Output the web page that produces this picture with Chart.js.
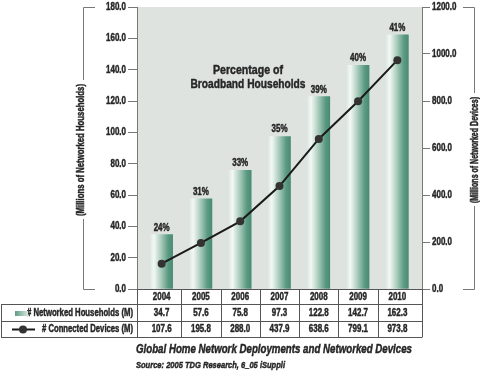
<!DOCTYPE html>
<html>
<head>
<meta charset="utf-8">
<script src="https://cdn.jsdelivr.net/npm/chart.js@4.4.1/dist/chart.umd.min.js"></script>
<style>
  html, body { margin: 0; padding: 0; background: #ffffff; }
  #wrap { width: 480px; height: 377px; position: relative; }
</style>
</head>
<body>
<div id="wrap"><canvas id="c" width="480" height="377"></canvas></div>
<script>
// ---- data ----
const years = ['2004', '2005', '2006', '2007', '2008', '2009', '2010'];
const households = [34.7, 57.6, 75.8, 97.3, 122.8, 142.7, 162.3];
const devices = [107.6, 195.8, 288.0, 437.9, 638.6, 799.1, 973.8];
const broadbandPct = ['24%', '31%', '33%', '35%', '39%', '40%', '41%'];
const leftTicksMax = 180;
const rightTicksMax = 1200;
const householdsLabel = '# Networked Households (M)';
const devicesLabel = '# Connected Devices (M)';
const leftAxisTitle = '(Millions of Networked Households)';
const rightAxisTitle = '(Millions of Networked Devices)';
const innerTitle = ['Percentage of', 'Broadband Households'];
const mainTitle = 'Global Home Network Deployments and Networked Devices';
const sourceText = 'Source: 2005 TDG Research, 6_05 iSuppli';

const FONT = "'Liberation Sans', Arial, sans-serif";
const TXT = '#262626';
const LINE = '#777777';
const SX = 0.76; // horizontal squeeze to mimic a condensed face

function txt(ctx, s, x, y, font, align, sx) {
  ctx.save();
  ctx.font = font;
  ctx.textAlign = align;
  ctx.textBaseline = 'middle';
  ctx.translate(x, y);
  ctx.scale(sx, 1);
  ctx.fillStyle = TXT;
  ctx.strokeStyle = TXT;
  ctx.lineWidth = 0.45;
  ctx.fillText(s, 0, 0);
  ctx.strokeText(s, 0, 0);
  ctx.restore();
}
function txtFit(ctx, s, x, y, font, align, w) {
  ctx.save();
  ctx.font = font;
  const m = ctx.measureText(s).width;
  ctx.restore();
  txt(ctx, s, x, y, font, align, w / m);
}

function barGradient(ctx) {
  const chart = ctx.chart;
  if (!chart.chartArea || !chart.scales.x) return '#8fbba7';
  const cx = chart.scales.x.getPixelForValue(ctx.dataIndex);
  const w = 11;
  const g = chart.ctx.createLinearGradient(cx - w, 0, cx + w, 0);
  g.addColorStop(0, '#dfebe4');
  g.addColorStop(0.15, '#f3f8f5');
  g.addColorStop(0.45, '#b0cfc0');
  g.addColorStop(0.8, '#5a9a82');
  g.addColorStop(1, '#4b8b73');
  return g;
}

const decorPlugin = {
  id: 'decor',
  beforeDraw(chart) {
    const { ctx, chartArea: a } = chart;
    ctx.save();
    ctx.fillStyle = '#dee3e0';
    ctx.fillRect(a.left, a.top, a.right - a.left, a.bottom - a.top);
    ctx.restore();
  },
  afterDatasetsDraw(chart) {
    const { ctx, scales } = chart;
    const x = scales.x, y = scales.y;
    households.forEach((v, i) => {
      txt(ctx, broadbandPct[i], x.getPixelForValue(i), y.getPixelForValue(v) - 7, 'bold 10.5px ' + FONT, 'center', SX);
    });
    txtFit(ctx, innerTitle[0], 248, 70, 'bold 13px ' + FONT, 'center', 70);
    txtFit(ctx, innerTitle[1], 248, 84, 'bold 13px ' + FONT, 'center', 115);
  },
  afterDraw(chart) {
    const { ctx, chartArea: a, scales } = chart;
    const x = scales.x;
    ctx.save();
    // tick labels from the library's scales
    scales.y.ticks.forEach(t => {
      txt(ctx, t.value.toFixed(1), a.left - 11, scales.y.getPixelForValue(t.value), 'bold 10.5px ' + FONT, 'right', SX);
    });
    scales.y2.ticks.forEach(t => {
      txt(ctx, t.value.toFixed(1), a.right + 10, scales.y2.getPixelForValue(t.value), 'bold 10.5px ' + FONT, 'left', SX);
    });

    // axis title brackets
    ctx.strokeStyle = LINE;
    ctx.lineWidth = 1;
    ctx.beginPath();
    ctx.moveTo(95, a.top + 0.5); ctx.lineTo(83.5, a.top + 0.5); ctx.lineTo(83.5, 80);
    ctx.moveTo(83.5, 219); ctx.lineTo(83.5, a.bottom + 0.5); ctx.lineTo(95, a.bottom + 0.5);
    ctx.moveTo(463, a.top + 0.5); ctx.lineTo(474.5, a.top + 0.5); ctx.lineTo(474.5, 93);
    ctx.moveTo(474.5, 206); ctx.lineTo(474.5, a.bottom + 0.5); ctx.lineTo(463, a.bottom + 0.5);
    ctx.stroke();
    ctx.save(); ctx.translate(81, 150); ctx.rotate(-Math.PI / 2);
    txtFit(ctx, leftAxisTitle, 0, 0, 'bold 10px ' + FONT, 'center', 132); ctx.restore();
    ctx.save(); ctx.translate(475, 150); ctx.rotate(-Math.PI / 2);
    txtFit(ctx, rightAxisTitle, 0, 0, 'bold 10px ' + FONT, 'center', 106); ctx.restore();

    // data table
    const top = a.bottom, r1 = 304, r2 = 321, bot = 337;
    const bounds = [a.left];
    for (let i = 0; i < years.length - 1; i++) bounds.push(Math.round(x.getPixelForValue(i + 0.5)));
    bounds.push(a.right);
    ctx.strokeStyle = '#555555';
    ctx.lineWidth = 1;
    ctx.beginPath();
    ctx.moveTo(a.left, top + 0.5); ctx.lineTo(a.right, top + 0.5);
    [r1, r2, bot].forEach(yy => { ctx.moveTo(1, yy + 0.5); ctx.lineTo(a.right, yy + 0.5); });
    ctx.moveTo(1.5, r1); ctx.lineTo(1.5, bot + 0.5);
    bounds.forEach(bx => { ctx.moveTo(bx + 0.5, top); ctx.lineTo(bx + 0.5, bot + 0.5); });
    ctx.stroke();

    years.forEach((yr, i) => {
      const cx = x.getPixelForValue(i);
      txt(ctx, yr, cx, 297, 'bold 10.5px ' + FONT, 'center', SX);
      txt(ctx, households[i].toFixed(1), cx, 313, 'bold 10.5px ' + FONT, 'center', SX);
      txt(ctx, devices[i].toFixed(1), cx, 329.5, 'bold 10.5px ' + FONT, 'center', SX);
    });
    // legend cells
    txtFit(ctx, householdsLabel, 133, 313, 'bold 10px ' + FONT, 'right', 106);
    txtFit(ctx, devicesLabel, 133, 329.5, 'bold 10px ' + FONT, 'right', 91);
    const sg = ctx.createLinearGradient(15, 0, 28, 0);
    sg.addColorStop(0, '#5c9b83');
    sg.addColorStop(1, '#d6e7de');
    ctx.fillStyle = sg;
    ctx.fillRect(15, 311, 13, 5);
    ctx.strokeStyle = '#1a1a1a';
    ctx.lineWidth = 2;
    ctx.beginPath(); ctx.moveTo(12, 329.5); ctx.lineTo(35, 329.5); ctx.stroke();
    ctx.fillStyle = '#333333';
    ctx.beginPath(); ctx.arc(23, 329.5, 4, 0, Math.PI * 2); ctx.fill();

    // titles
    txtFit(ctx, mainTitle, 136, 350, 'italic bold 12.5px ' + FONT, 'left', 276);
    txtFit(ctx, sourceText, 136, 365, 'italic bold 9.5px ' + FONT, 'left', 149);
    ctx.restore();
  }
};

const cfg = {
  data: {
    datasets: [
      {
        type: 'line',
        label: devicesLabel,
        data: devices.map((v, i) => ({ x: i, y: v })),
        yAxisID: 'y2',
        borderColor: '#1a1a1a',
        borderWidth: 2,
        pointRadius: 4,
        pointBackgroundColor: '#333333',
        pointBorderColor: '#333333',
        pointBorderWidth: 0,
        tension: 0,
        order: 0
      },
      {
        type: 'bar',
        label: householdsLabel,
        data: households.map((v, i) => ({ x: i, y: v })),
        yAxisID: 'y',
        backgroundColor: barGradient,
        barThickness: 22,
        borderWidth: 0,
        order: 1
      }
    ]
  },
  options: {
    responsive: false,
    animation: false,
    layout: { padding: { top: 7, bottom: 88, left: 0, right: 0 } },
    plugins: { legend: { display: false }, tooltip: { enabled: false } },
    scales: {
      x: {
        type: 'linear',
        offset: false,
        min: -0.627,
        max: years.length - 1 + 0.627,
        display: false
      },
      y: {
        position: 'left',
        min: 0,
        max: leftTicksMax,
        ticks: { stepSize: 20, display: false },
        grid: { drawOnChartArea: false, drawTicks: true, tickLength: 9, color: LINE },
        border: { display: true, color: LINE },
        afterFit: s => { s.width = 137; }
      },
      y2: {
        position: 'right',
        min: 0,
        max: rightTicksMax,
        ticks: { stepSize: 200, display: false },
        grid: { drawOnChartArea: false, drawTicks: true, tickLength: 8, color: LINE },
        border: { display: true, color: LINE },
        afterFit: s => { s.width = 58; }
      }
    }
  },
  plugins: [decorPlugin]
};

new Chart(document.getElementById('c'), cfg);
</script>
</body>
</html>
